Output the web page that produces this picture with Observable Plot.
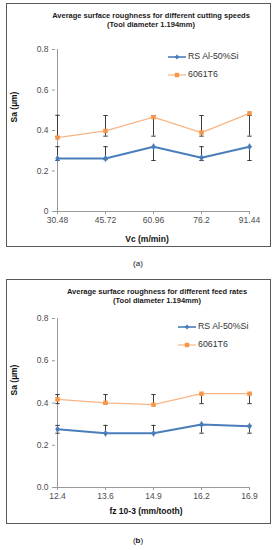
<!DOCTYPE html>
<html><head><meta charset="utf-8">
<script src="https://cdn.jsdelivr.net/npm/d3@7"></script>
<script src="https://cdn.jsdelivr.net/npm/@observablehq/plot@0.6"></script>
<style>
body{margin:0;background:#fff;font-family:"Liberation Sans",Arial,sans-serif;}
#page{position:relative;width:278px;height:550px;overflow:hidden;}
.box{position:absolute;left:6px;width:265px;border:1px solid #5a5a5a;box-sizing:border-box;}
.abs{position:absolute;white-space:nowrap;}
.title{font-weight:bold;font-size:7.5px;color:#1a1a1a;transform:translateX(-50%);text-align:center;line-height:8.5px;}
.axt{font-weight:bold;font-size:8.5px;color:#111;transform:translate(-50%,-50%);}
.leg{font-size:8.8px;color:#333;transform:translateY(-50%);}
.cap{font-size:8px;color:#111;transform:translate(-50%,-50%);}
svg.plot{position:absolute;left:0;}
</style>
</head><body><div id="page"></div>
<script>
// ---- data ----
const speedLabels = ["30.48","45.72","60.96","76.2","91.44"];
const speedRS     = [0.262,0.262,0.320,0.265,0.320];
const speedRSLo   = [0.252,0.256,0.252,0.252,0.252];
const speedRSHi   = [0.320,0.320,0.320,0.320,0.320];
const speed6061   = [0.365,0.398,0.466,0.390,0.485];
const speed6061Lo = [0.370,0.372,0.372,0.372,0.372];
const speed6061Hi = [0.475,0.474,0.474,0.474,0.474];

const feedLabels  = ["12.4","13.6","14.9","16.2","16.9"];
const feedRS      = [0.276,0.257,0.257,0.298,0.290];
const feedRSLo    = [0.257,0.257,0.257,0.257,0.257];
const feedRSHi    = [0.294,0.294,0.294,0.294,0.294];
const feed6061    = [0.417,0.401,0.392,0.444,0.444];
const feed6061Lo  = [0.397,0.397,0.392,0.397,0.397];
const feed6061Hi  = [0.440,0.440,0.440,0.444,0.444];

const seriesNames = ["RS Al-50%Si","6061T6"];
const yTicks = [0,0.2,0.4,0.6,0.8];

const BLUE="#4a7ebb", ORANGE="#f79646", ORANGE_LINE="#f9b586", ERR="#3a3a3a";
const page = document.getElementById("page");
const capSymbol = {draw(ctx){ ctx.moveTo(-2.2,0); ctx.lineTo(2.2,0); }};

function rows(labels, v, lo, hi){ return labels.map((c,i)=>({c, v:v[i], lo:lo[i], hi:hi[i]})); }

function panel(cfg){
  const rs = rows(cfg.labels, cfg.rs, cfg.rsLo, cfg.rsHi);
  const al = rows(cfg.labels, cfg.al, cfg.alLo, cfg.alHi);
  const errMarks = d => [
    Plot.ruleX(d, {x:"c", y1:"lo", y2:"hi", stroke:ERR, strokeWidth:1}),
    Plot.dot(d, {x:"c", y:"lo", symbol:capSymbol, r:2, stroke:ERR, strokeWidth:1, fill:"none"}),
    Plot.dot(d, {x:"c", y:"hi", symbol:capSymbol, r:2, stroke:ERR, strokeWidth:1, fill:"none"})
  ];
  const svg = Plot.plot({
    width:278, height:250,
    marginLeft:55, marginRight:28, marginTop:cfg.mt, marginBottom:cfg.mb,
    style:{background:"transparent", fontFamily:"'Liberation Sans',Arial,sans-serif", overflow:"visible"},
    x:{type:"point", domain:cfg.labels, padding:0},
    y:{domain:[0,0.8]},
    marks:[
      Plot.ruleX([cfg.labels[0]], {y1:0, y2:0.8, stroke:"#9a9a9a", strokeWidth:1}),
      Plot.ruleY([0], {stroke:"#9a9a9a", strokeWidth:1}),
      Plot.axisY({ticks:yTicks, tickFormat:cfg.yfmt, tickSize:3, tickPadding:4, fontSize:8.5, stroke:"#9a9a9a", fill:"#4d4d4d", label:null}),
      Plot.axisX({tickSize:3, tickPadding:2, fontSize:8.5, stroke:"#9a9a9a", fill:"#4d4d4d", label:null}),
      ...errMarks(rs), ...errMarks(al),
      Plot.line(al, {x:"c", y:"v", stroke:ORANGE_LINE, strokeWidth:1.3}),
      Plot.dot(al, {x:"c", y:"v", symbol:"square", r:2.5, fill:ORANGE, stroke:null}),
      Plot.line(rs, {x:"c", y:"v", stroke:BLUE, strokeWidth:2}),
      Plot.dot(rs, {x:"c", y:"v", symbol:"diamond", r:2.3, fill:BLUE, stroke:null})
    ]
  });
  svg.classList.add("plot");
  svg.style.top = cfg.top + "px";
  page.appendChild(svg);

  const add = (cls, html, x, y, extra) => {
    const d = document.createElement("div");
    d.className = "abs " + cls; d.innerHTML = html;
    d.style.left = x + "px"; d.style.top = y + "px";
    if (extra) Object.assign(d.style, extra);
    page.appendChild(d); return d;
  };
  const box = add("box","",6,cfg.boxTop); box.style.height = cfg.boxH + "px"; box.classList.remove("abs");
  add("title", cfg.title1 + "<br>" + cfg.title2, cfg.titleX, cfg.titleY);
  add("axt", cfg.xlabel, cfg.xlabX, cfg.xlabY);
  add("axt", "Sa (µm)", 14, cfg.ylabY, {transform:"translate(-50%,-50%) rotate(-90deg)"});
  // legend
  const legSym = (color, sym, lw, lc) => `<svg width="18" height="6" style="vertical-align:middle;margin-right:2px">
      <line x1="0" y1="3" x2="18" y2="3" stroke="${lc}" stroke-width="${lw}"/>
      ${sym==="d" ? `<path d="M9,0.6L11.4,3L9,5.4L6.6,3Z" fill="${color}"/>` : `<rect x="6.8" y="0.8" width="4.4" height="4.4" fill="${color}"/>`}
    </svg>`;
  add("leg", legSym(BLUE,"d",1.6,BLUE) + seriesNames[0], cfg.legX, cfg.legY1);
  add("leg", legSym(ORANGE,"s",1.2,ORANGE_LINE) + seriesNames[1], cfg.legX, cfg.legY2);
  add("cap", cfg.cap, 138, cfg.capY);
}

panel({
  labels:speedLabels, rs:speedRS, rsLo:speedRSLo, rsHi:speedRSHi, al:speed6061, alLo:speed6061Lo, alHi:speed6061Hi,
  top:0, mt:49, mb:39, yfmt:d=>d===0?"0":d3.format(".1f")(d),
  boxTop:3, boxH:244,
  title1:"Average surface roughness for different cutting speeds", title2:"(Tool diameter 1.194mm)", titleX:151, titleY:12,
  xlabel:"Vc (m/min)", xlabX:147, xlabY:239, ylabY:107,
  legX:168, legY1:56, legY2:74, cap:"(a)", capY:263
});
panel({
  labels:feedLabels, rs:feedRS, rsLo:feedRSLo, rsHi:feedRSHi, al:feed6061, alLo:feed6061Lo, alHi:feed6061Hi,
  top:270, mt:48, mb:33, yfmt:d3.format(".1f"),
  boxTop:279, boxH:245,
  title1:"Average surface roughness for different feed rates", title2:"(Tool diameter 1.194mm)", titleX:157, titleY:288,
  xlabel:"fz 10-3 (mm/tooth)", xlabX:146, xlabY:511, ylabY:380,
  legX:178, legY1:326, legY2:344, cap:"(<b>b</b>)", capY:540
});
</script>
</body></html>
